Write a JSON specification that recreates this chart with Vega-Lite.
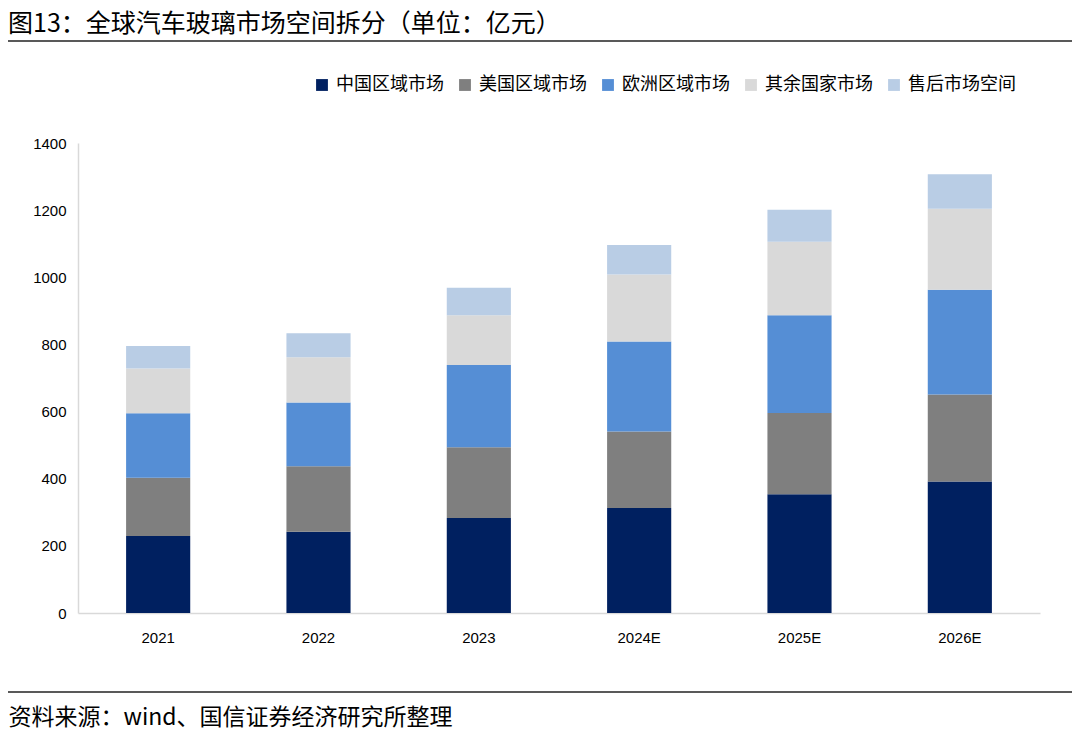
{
  "$schema": "https://vega.github.io/schema/vega-lite/v6.json",
  "width": 962,
  "height": 470,
  "autosize": {"type": "none"},
  "padding": {"left": 78, "top": 143, "right": 40, "bottom": 121},
  "background": "white",
  "title": {
    "text": "图13：全球汽车玻璃市场空间拆分（单位：亿元）",
    "anchor": "start",
    "frame": "group",
    "dx": -70,
    "font": "Noto Sans CJK SC",
    "fontSize": 25,
    "fontWeight": "normal",
    "color": "#000000",
    "offset": 3
  },
  "config": {
    "view": {"stroke": null},
    "font": "Noto Sans CJK SC"
  },
  "data": {
    "values": [
      {"year": "2021", "segment": "中国区域市场", "order": 1, "value": 229},
      {"year": "2021", "segment": "美国区域市场", "order": 2, "value": 174},
      {"year": "2021", "segment": "欧洲区域市场", "order": 3, "value": 192},
      {"year": "2021", "segment": "其余国家市场", "order": 4, "value": 133},
      {"year": "2021", "segment": "售后市场空间", "order": 5, "value": 67},
      {"year": "2022", "segment": "中国区域市场", "order": 1, "value": 242},
      {"year": "2022", "segment": "美国区域市场", "order": 2, "value": 195},
      {"year": "2022", "segment": "欧洲区域市场", "order": 3, "value": 190},
      {"year": "2022", "segment": "其余国家市场", "order": 4, "value": 135},
      {"year": "2022", "segment": "售后市场空间", "order": 5, "value": 71},
      {"year": "2023", "segment": "中国区域市场", "order": 1, "value": 283},
      {"year": "2023", "segment": "美国区域市场", "order": 2, "value": 211},
      {"year": "2023", "segment": "欧洲区域市场", "order": 3, "value": 245},
      {"year": "2023", "segment": "其余国家市场", "order": 4, "value": 148},
      {"year": "2023", "segment": "售后市场空间", "order": 5, "value": 82},
      {"year": "2024E", "segment": "中国区域市场", "order": 1, "value": 313},
      {"year": "2024E", "segment": "美国区域市场", "order": 2, "value": 228},
      {"year": "2024E", "segment": "欧洲区域市场", "order": 3, "value": 268},
      {"year": "2024E", "segment": "其余国家市场", "order": 4, "value": 199},
      {"year": "2024E", "segment": "售后市场空间", "order": 5, "value": 88},
      {"year": "2025E", "segment": "中国区域市场", "order": 1, "value": 354},
      {"year": "2025E", "segment": "美国区域市场", "order": 2, "value": 242},
      {"year": "2025E", "segment": "欧洲区域市场", "order": 3, "value": 291},
      {"year": "2025E", "segment": "其余国家市场", "order": 4, "value": 219},
      {"year": "2025E", "segment": "售后市场空间", "order": 5, "value": 95},
      {"year": "2026E", "segment": "中国区域市场", "order": 1, "value": 392},
      {"year": "2026E", "segment": "美国区域市场", "order": 2, "value": 259},
      {"year": "2026E", "segment": "欧洲区域市场", "order": 3, "value": 312},
      {"year": "2026E", "segment": "其余国家市场", "order": 4, "value": 241},
      {"year": "2026E", "segment": "售后市场空间", "order": 5, "value": 103}
    ]
  },
  "layer": [
    {
      "mark": {"type": "bar"},
      "encoding": {
        "x": {
          "field": "year",
          "type": "ordinal",
          "sort": null,
          "scale": {"paddingInner": 0.6, "paddingOuter": 0.3},
          "axis": {
            "title": "资料来源：wind、国信证券经济研究所整理",
            "titleFont": "Noto Sans CJK SC",
            "titleFontSize": 23,
            "titleFontWeight": "normal",
            "titleColor": "#000000",
            "titleAnchor": "start",
            "titleAlign": "left",
            "titleBaseline": "middle",
            "titleX": -70,
            "titleY": 104,
            "labelAngle": 0,
            "labelFont": "Liberation Sans",
            "labelFontSize": 15,
            "labelColor": "#000000",
            "labelPadding": 17,
            "ticks": false,
            "domainColor": "#d9d9d9",
            "domainWidth": 1.5
          }
        },
        "y": {
          "field": "value",
          "type": "quantitative",
          "stack": "zero",
          "scale": {"domain": [0, 1400], "nice": false},
          "axis": {
            "title": null,
            "format": "d",
            "values": [0, 200, 400, 600, 800, 1000, 1200, 1400],
            "grid": false,
            "ticks": false,
            "labelFont": "Liberation Sans",
            "labelFontSize": 15,
            "labelColor": "#000000",
            "labelPadding": 12,
            "domainColor": "#d9d9d9",
            "domainWidth": 1.5
          }
        },
        "color": {
          "field": "segment",
          "type": "nominal",
          "scale": {
            "domain": ["中国区域市场", "美国区域市场", "欧洲区域市场", "其余国家市场", "售后市场空间"],
            "range": ["#002060", "#7f7f7f", "#558ed5", "#d9d9d9", "#b9cde5"]
          },
          "legend": {
            "title": null,
            "orient": "none",
            "direction": "horizontal",
            "legendX": 235,
            "legendY": -67,
            "symbolType": "square",
            "symbolSize": 140,
            "symbolStrokeWidth": 0,
            "labelFont": "Noto Sans CJK SC",
            "labelFontSize": 18,
            "labelColor": "#000000",
            "labelOffset": 5,
            "columnPadding": 12
          }
        },
        "order": {"field": "order", "type": "quantitative"}
      }
    },
    {
      "data": {"values": [{}]},
      "mark": {"type": "rule", "color": "#595959", "strokeWidth": 2},
      "encoding": {"x": {"value": -70}, "x2": {"value": 994}, "y": {"value": -102}}
    },
    {
      "data": {"values": [{}]},
      "mark": {"type": "rule", "color": "#595959", "strokeWidth": 2},
      "encoding": {"x": {"value": -70}, "x2": {"value": 994}, "y": {"value": 549}}
    }
  ]
}
